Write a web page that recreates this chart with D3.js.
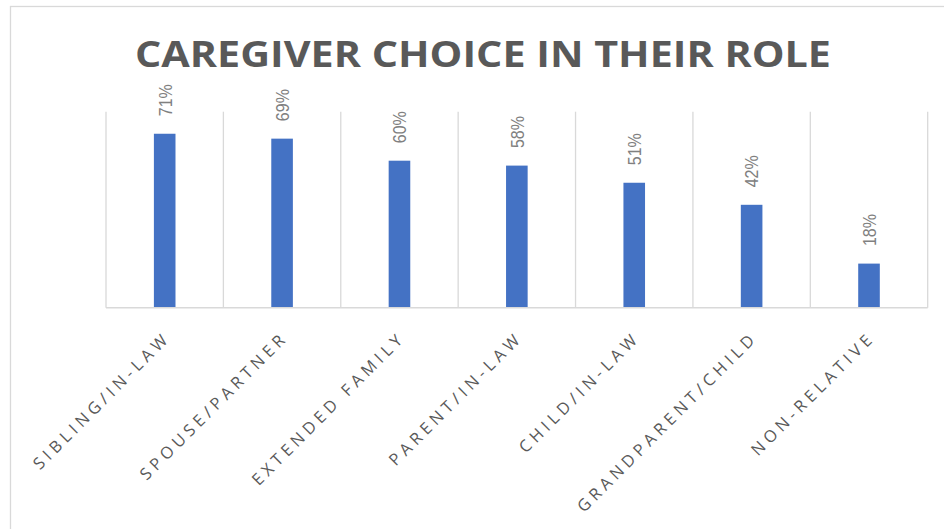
<!DOCTYPE html>
<html>
<head>
<meta charset="utf-8">
<script src="https://cdn.jsdelivr.net/npm/d3@7"></script>
<style>
  body { margin: 0; background: #fff; }
  svg { display: block; }
</style>
</head>
<body>
<svg width="944" height="529"></svg>
<script>
// chart data
const categories = [
  "SIBLING/IN-LAW",
  "SPOUSE/PARTNER",
  "EXTENDED FAMILY",
  "PARENT/IN-LAW",
  "CHILD/IN-LAW",
  "GRANDPARENT/CHILD",
  "NON-RELATIVE",
];
const values = [0.71, 0.69, 0.6, 0.58, 0.51, 0.42, 0.18];
const titleText = "CAREGIVER CHOICE IN THEIR ROLE";

const svg = d3.select("svg");

const plot = { left: 106, right: 927.7, top: 111.7, bottom: 307.7 };

const x = d3
  .scaleBand()
  .domain(categories)
  .range([plot.left, plot.right])
  .paddingInner(0)
  .paddingOuter(0);

const y = d3.scaleLinear().domain([0, 0.8]).range([plot.bottom, plot.top]);

const barW = x.bandwidth() * 0.184;
const fmt = d3.format(".0%");

// chart frame (only top/left edges are visible in the crop)
svg
  .append("rect")
  .attr("x", 10.5)
  .attr("y", 6.5)
  .attr("width", 1200)
  .attr("height", 1200)
  .attr("fill", "none")
  .attr("stroke", "#d9d9d9")
  .attr("stroke-width", 1.3);

// title
svg
  .append("text")
  .attr("x", 483)
  .attr("y", 66.5)
  .attr("text-anchor", "middle")
  .attr("font-family", "'Open Sans', sans-serif")
  .attr("font-weight", "bold")
  .attr("font-size", 36.5)
  .attr("fill", "#595959")
  .attr("textLength", 696)
  .attr("lengthAdjust", "spacingAndGlyphs")
  .text(titleText);

// vertical gridlines at category boundaries
const edges = categories.map((c) => x(c)).concat([plot.right]);
svg
  .append("g")
  .attr("class", "grid")
  .selectAll("line")
  .data(edges)
  .join("line")
  .attr("x1", (d) => d)
  .attr("x2", (d) => d)
  .attr("y1", plot.top)
  .attr("y2", plot.bottom)
  .attr("stroke", "#d9d9d9")
  .attr("stroke-width", 1.3);

// bars
const rows = categories.map((c, i) => ({ cat: c, v: values[i] }));

svg
  .append("g")
  .attr("class", "bars")
  .selectAll("rect")
  .data(rows)
  .join("rect")
  .attr("x", (d) => x(d.cat) + (x.bandwidth() - barW) / 2)
  .attr("width", barW)
  .attr("y", (d) => y(d.v))
  .attr("height", (d) => y(0) - y(d.v))
  .attr("fill", "#4472c4");

// baseline
svg
  .append("line")
  .attr("x1", plot.left)
  .attr("x2", plot.right)
  .attr("y1", plot.bottom)
  .attr("y2", plot.bottom)
  .attr("stroke", "#d9d9d9")
  .attr("stroke-width", 1.6);

// value labels, rotated
svg
  .append("g")
  .attr("class", "value-labels")
  .selectAll("text")
  .data(rows)
  .join("text")
  .attr("transform", (d) => {
    const cx = x(d.cat) + x.bandwidth() / 2;
    return `translate(${cx},${y(d.v) - 17.5}) rotate(-90)`;
  })
  .attr("dy", "0.36em")
  .attr("font-family", "'Liberation Sans', Arial, sans-serif")
  .attr("font-size", 19)
  .attr("fill", "#808080")
  .attr("textLength", 32)
  .attr("lengthAdjust", "spacingAndGlyphs")
  .text((d) => fmt(d.v));

// category labels, rotated -45
svg
  .append("g")
  .attr("class", "cat-labels")
  .selectAll("text")
  .data(categories)
  .join("text")
  .attr("transform", (d) => {
    const cx = x(d) + x.bandwidth() / 2;
    return `translate(${cx + 7},${plot.bottom + 31}) rotate(-45)`;
  })
  .attr("text-anchor", "end")
  .attr("font-family", "'Open Sans', sans-serif")
  .attr("font-size", 16.5)
  .attr("letter-spacing", 4.4)
  .attr("fill", "#595959")
  .text((d) => d);
</script>
</body>
</html>
